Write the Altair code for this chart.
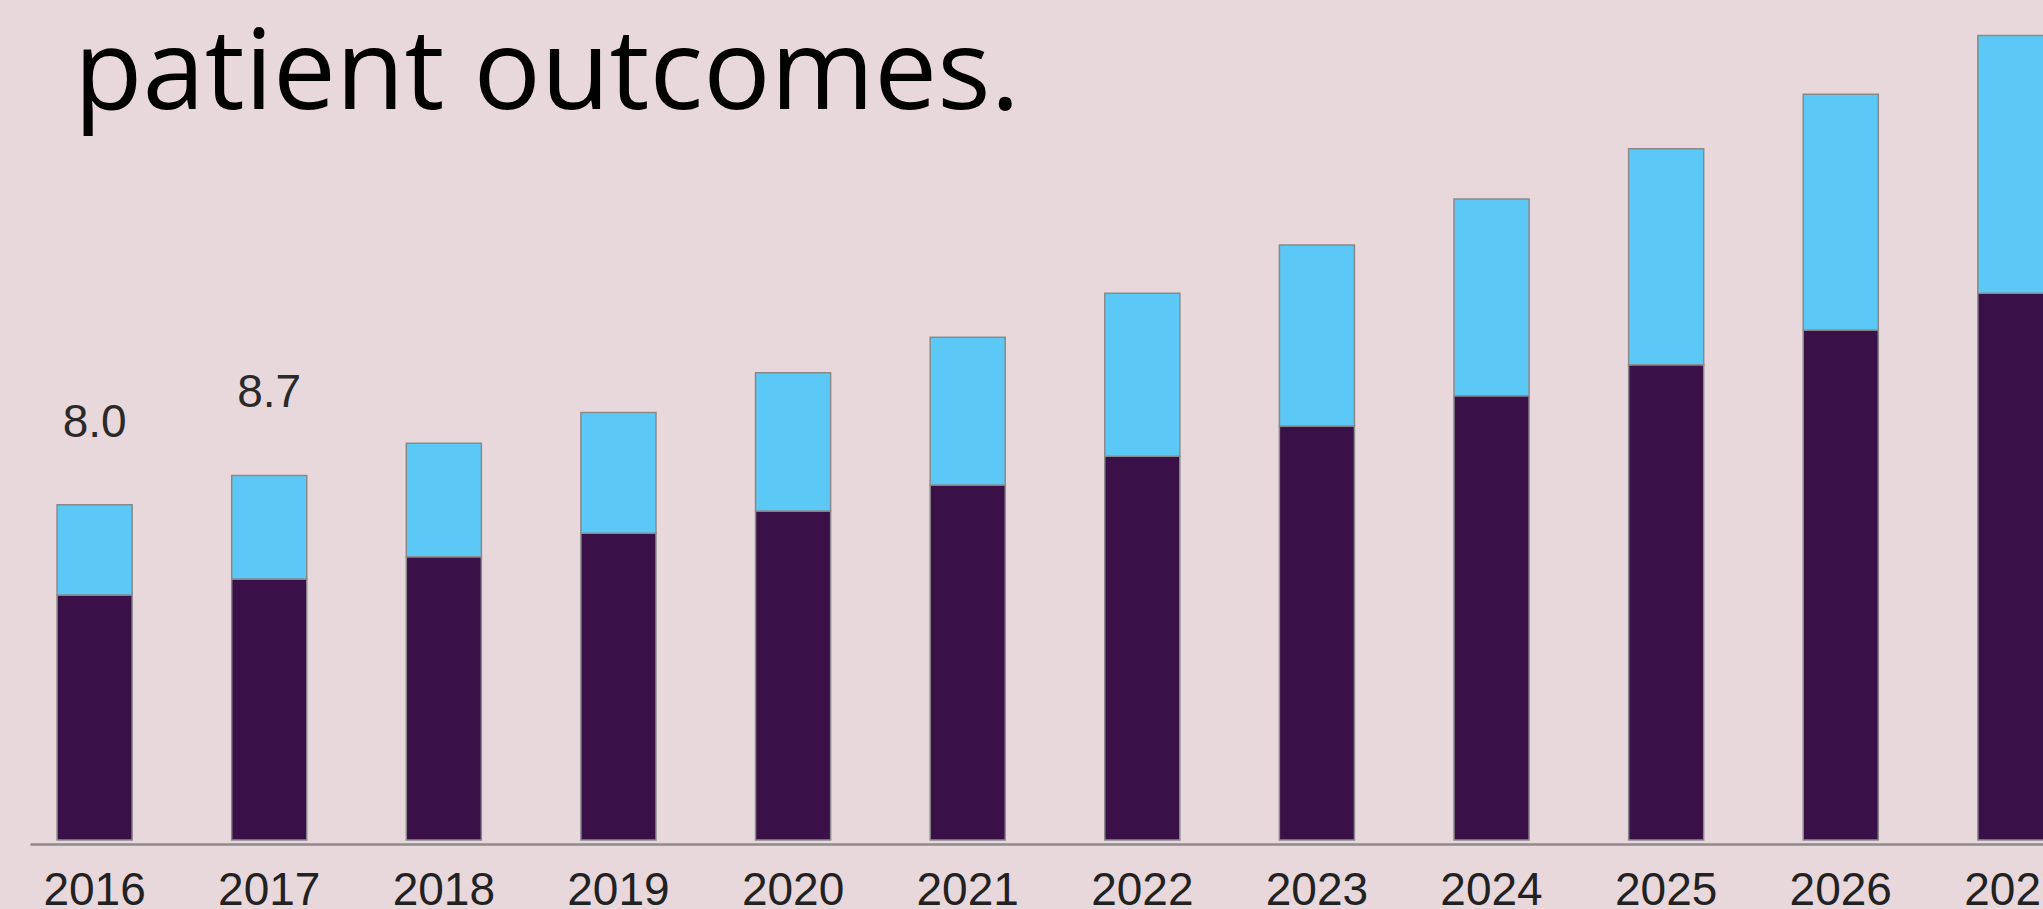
import altair as alt
import pandas as pd

# ---- data ----
years = [2016, 2017, 2018, 2019, 2020, 2021, 2022, 2023, 2024, 2025, 2026, 2027]
dark_segment = [5.85, 6.23, 6.76, 7.32, 7.85, 8.47, 9.16, 9.88, 10.60, 11.34, 12.17, 13.05]
light_segment = [2.15, 2.47, 2.71, 2.88, 3.30, 3.53, 3.89, 4.32, 4.70, 5.16, 5.63, 6.15]
label_years = [2016, 2017]
label_values = [8.0, 8.7]
label_texts = ["8.0", "8.7"]
heading = ["patient outcomes."]

BG = "#E8D8DC"
DARK = "#3A1048"
LIGHT = "#5BC8F5"
NUM_FONT = "'Liberation Sans Narrow', 'Arial Narrow', 'Liberation Sans', Arial, sans-serif"

rows = []
for y, d, l in zip(years, dark_segment, light_segment):
    rows.append({"year": str(y), "segment": "dark", "value": d, "ord": 0})
    rows.append({"year": str(y), "segment": "light", "value": l, "ord": 1})
bars_df = pd.DataFrame(rows)
labels_df = pd.DataFrame({"year": [str(y) for y in label_years], "value": label_values, "text": label_texts})
head_df = pd.DataFrame({"t": heading})

x_scale = alt.Scale(domain=[str(y) for y in years], range=[0, 2050], paddingInner=0.57, paddingOuter=0.155)
y_scale = alt.Scale(domain=[0, 20], nice=False)

bars = alt.Chart(bars_df).mark_bar(stroke="#8a8a8a", strokeWidth=1.5).encode(
    x=alt.X("year:N", scale=x_scale, sort=None,
            axis=alt.Axis(title=None, ticks=False, labelAngle=0, labelFont=NUM_FONT,
                          labelFontSize=46, labelColor="#222222", labelPadding=24,
                          domainColor="#8c8c8c", domainWidth=2.5, offset=4, labelBaseline="top")),
    y=alt.Y("value:Q", stack="zero", scale=y_scale, axis=None),
    color=alt.Color("segment:N", scale=alt.Scale(domain=["dark", "light"], range=[DARK, LIGHT]), legend=None),
    order=alt.Order("ord:Q"),
)

labels = alt.Chart(labels_df).mark_text(
    font=NUM_FONT, fontSize=46, color="#2a2a2a", baseline="alphabetic", dy=-68, align="center"
).encode(
    x=alt.X("year:N", scale=x_scale, sort=None),
    y=alt.Y("value:Q", scale=y_scale),
    text="text:N",
)

head = alt.Chart(head_df).mark_text(
    font="Open Sans", fontSize=112, color="#000000", align="left", baseline="alphabetic"
).encode(
    x=alt.value(44), y=alt.value(107), text="t:N"
)

chart = alt.layer(bars, labels, head).properties(
    width=2013, height=838,
    padding={"left": 30, "right": 0, "top": 2, "bottom": 69},
    autosize=alt.AutoSizeParams(type="none"),
    background=BG,
).configure_view(stroke=None)

chart.save("out.html", embed_options={"renderer": "svg", "actions": False})
